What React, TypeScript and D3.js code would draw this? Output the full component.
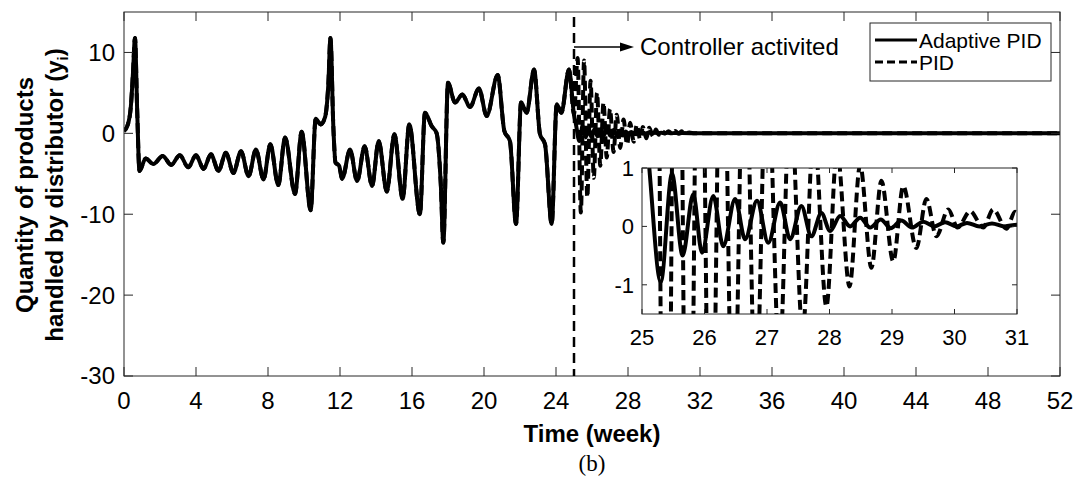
import React from 'react';
import * as d3 from 'd3';

// ---- data ----
const xTicks = [0, 4, 8, 12, 16, 20, 24, 28, 32, 36, 40, 44, 48, 52];
const yTicks = [-30, -20, -10, 0, 10];
const insetXTicks = [25, 26, 27, 28, 29, 30, 31];
const insetYTicks = [-1, 0, 1];

// common trajectory before the controller is activated (week, value)
const sharedBefore: [number, number][] = [
  [0, 0.3], [0.2, 1.0], [0.38, 3.3], [0.5, 7.5], [0.61, 11.8], [0.73, 3.0], [0.86, -4.65],
  [1.2, -3.1], [1.63, -3.8], [2.15, -2.8], [2.62, -3.9], [3.1, -2.7], [3.57, -4.2],
  [4.0, -2.7], [4.42, -4.4], [4.83, -2.6], [5.25, -4.65], [5.66, -2.4], [6.08, -4.9],
  [6.5, -2.2], [6.92, -5.3], [7.33, -2.0], [7.75, -5.7], [8.13, -1.35], [8.57, -6.4],
  [8.95, -0.5], [9.5, -7.5], [9.87, 0.2], [10.37, -9.5], [10.65, 1.8], [10.92, 1.1],
  [11.17, 2.0], [11.35, 6.0], [11.47, 11.8], [11.63, 0.8], [11.75, -3.6], [11.95, -4.0],
  [12.12, -5.6], [12.56, -2.0], [12.95, -5.9], [13.37, -1.6], [13.78, -6.5], [14.15, -0.95],
  [14.6, -7.2], [15.02, -0.1], [15.48, -8.1], [15.85, 1.1], [16.44, -10.0], [16.72, 2.55],
  [17.09, 0.9], [17.37, 0.0], [17.6, -6.3], [17.74, -13.5], [18.0, 6.25], [18.39, 3.8],
  [18.8, 4.8], [19.22, 3.25], [19.72, 5.55], [20.15, 2.15], [20.76, 7.2], [21.13, 0.3],
  [21.44, -0.95], [21.78, -11.2], [22.06, 3.8], [22.37, 2.55], [22.78, 7.9], [23.11, -0.1],
  [23.39, -1.35], [23.76, -11.2], [24.04, 3.6], [24.3, 2.55], [24.72, 7.9], [25.0, 2.3],
];

// Adaptive PID after activation
const adaptiveAfter: [number, number][] = [
  [25.1, 1.2], [25.3, -0.95], [25.48, 0.9], [25.65, -0.5], [25.82, 0.55], [25.96, -0.45],
  [26.14, 0.52], [26.3, -0.34], [26.49, 0.47], [26.65, -0.22], [26.84, 0.44], [27.02, -0.28],
  [27.21, 0.41], [27.37, -0.22], [27.55, 0.35], [27.71, -0.17], [27.87, 0.23], [28.01, -0.08],
  [28.17, 0.18], [28.33, 0.0], [28.49, 0.15], [28.65, -0.02], [28.82, 0.12], [28.98, -0.03],
  [29.15, 0.1], [29.32, -0.02], [29.5, 0.08], [29.68, 0.0], [29.85, 0.07], [30.03, 0.0],
  [30.2, 0.06], [30.4, 0.0], [30.6, 0.05], [30.8, 0.0], [31.0, 0.03], [32.0, 0.0], [52.0, 0.0],
];

// PID after activation
const pidAfter: [number, number][] = [
  [25.2, 9.3], [25.38, -9.8], [25.56, 9.0], [25.74, -7.9], [25.92, 6.5], [26.1, -5.5],
  [26.28, 5.0], [26.46, -4.0], [26.64, 3.8], [26.82, -3.0], [27.0, 3.0], [27.2, -2.3],
  [27.37, 2.3], [27.57, -1.8], [27.75, 1.7], [27.95, -1.37], [28.12, 1.3], [28.32, -1.03],
  [28.49, 1.05], [28.67, -0.71], [28.83, 0.78], [29.02, -0.6], [29.18, 0.69], [29.39, -0.37],
  [29.55, 0.47], [29.71, -0.17], [29.9, 0.29], [30.05, -0.02], [30.25, 0.26], [30.46, -0.02],
  [30.62, 0.29], [30.83, -0.04], [30.97, 0.25], [31.15, 0.0], [31.4, 0.1], [31.7, 0.0],
  [33.0, 0.0], [52.0, 0.0],
];

const adaptive = [...sharedBefore, ...adaptiveAfter];
const pid = [...sharedBefore, ...pidAfter];

const FONT = '"Liberation Sans", Arial, Helvetica, sans-serif';
const AX = '#262626';

export default function App() {
  const x = d3.scaleLinear().domain([0, 52]).range([124, 1060]);
  const y = d3.scaleLinear().domain([-30, 15]).range([376, 12]);
  const ix = d3.scaleLinear().domain([25, 31]).range([642, 1017]);
  const iy = d3.scaleLinear().domain([-1.5, 1]).range([314, 168]);

  const mainLine = d3.line<[number, number]>().x(d => x(d[0])).y(d => y(d[1])).curve(d3.curveMonotoneX);
  const insetLine = d3.line<[number, number]>().x(d => ix(d[0])).y(d => iy(d[1])).curve(d3.curveMonotoneX);
  const inInset = (d: [number, number]) => d[0] >= 24.7 && d[0] <= 32;

  const [x0, x1] = x.range();
  const [yb, yt] = y.range();
  const [ix0, ix1] = ix.range();
  const [iyb, iyt] = iy.range();
  const tk = 9;
  const itk = 5;

  return (
    <svg width={1078} height={477} style={{ position: 'absolute', left: 0, top: 0, background: '#fff' }}
      fontFamily={FONT}>
      <defs>
        <clipPath id="mainClip"><rect x={x0} y={yt} width={x1 - x0} height={yb - yt} /></clipPath>
        <clipPath id="insetClip"><rect x={ix0} y={iyt} width={ix1 - ix0} height={iyb - iyt} /></clipPath>
      </defs>
      <rect x={0} y={0} width={1078} height={477} fill="#fff" />

      {/* main curves */}
      <g clipPath="url(#mainClip)">
        <path d={mainLine(pid) || ''} fill="none" stroke="#000" strokeWidth={4} strokeDasharray="10,5" strokeLinejoin="round" />
        <path d={mainLine(adaptive) || ''} fill="none" stroke="#000" strokeWidth={4} strokeLinejoin="round" />
      </g>

      {/* main frame & ticks */}
      <rect x={x0} y={yt} width={x1 - x0} height={yb - yt} fill="none" stroke={AX} strokeWidth={1} />
      {xTicks.map(t => (
        <g key={'xt' + t}>
          <line x1={x(t)} x2={x(t)} y1={yb} y2={yb - tk} stroke={AX} />
          <line x1={x(t)} x2={x(t)} y1={yt} y2={yt + tk} stroke={AX} />
          <text x={x(t)} y={409} fontSize={24} textAnchor="middle" fill="#000">{t}</text>
        </g>
      ))}
      {yTicks.map(v => (
        <g key={'yt' + v}>
          <line x1={x0} x2={x0 + tk} y1={y(v)} y2={y(v)} stroke={AX} />
          <line x1={x1} x2={x1 - tk} y1={y(v)} y2={y(v)} stroke={AX} />
          <text x={x0 - 9} y={y(v)} dy="0.35em" fontSize={24} textAnchor="end" fill="#000">{v}</text>
        </g>
      ))}

      {/* controller activation line & annotation */}
      <line x1={x(25)} x2={x(25)} y1={yt + 5} y2={yb} stroke="#000" strokeWidth={2.5} strokeDasharray="10,6" />
      <line x1={x(25)} x2={622} y1={47} y2={47} stroke="#000" strokeWidth={1.5} />
      <path d="M620,42.5 L634,47 L620,51.5 Z" fill="#000" />
      <text x={640} y={55} fontSize={24} fill="#000">Controller activited</text>

      {/* legend */}
      <rect x={870} y={23} width={181} height={58} fill="#fff" stroke={AX} strokeWidth={1} />
      <line x1={875} x2={917} y1={40} y2={40} stroke="#000" strokeWidth={3} />
      <text x={919} y={48} fontSize={21} fill="#000">Adaptive PID</text>
      <line x1={875} x2={917} y1={62} y2={62} stroke="#000" strokeWidth={3} strokeDasharray="8,4" />
      <text x={919} y={70} fontSize={21} fill="#000">PID</text>

      {/* inset */}
      <rect x={ix0} y={iyt} width={ix1 - ix0} height={iyb - iyt} fill="#fff" />
      <g clipPath="url(#insetClip)">
        <path d={insetLine(pid.filter(inInset)) || ''} fill="none" stroke="#000" strokeWidth={4} strokeDasharray="10,5" strokeLinejoin="round" />
        <path d={insetLine(adaptive.filter(inInset)) || ''} fill="none" stroke="#000" strokeWidth={4} strokeLinejoin="round" />
      </g>
      <rect x={ix0} y={iyt} width={ix1 - ix0} height={iyb - iyt} fill="none" stroke={AX} strokeWidth={1} />
      {insetXTicks.map(t => (
        <g key={'ixt' + t}>
          <line x1={ix(t)} x2={ix(t)} y1={iyb} y2={iyb - itk} stroke={AX} />
          <line x1={ix(t)} x2={ix(t)} y1={iyt} y2={iyt + itk} stroke={AX} />
          <text x={ix(t)} y={345} fontSize={22} textAnchor="middle" fill="#000">{t}</text>
        </g>
      ))}
      {insetYTicks.map(v => (
        <g key={'iyt' + v}>
          <line x1={ix0} x2={ix0 + itk} y1={iy(v)} y2={iy(v)} stroke={AX} />
          <line x1={ix1} x2={ix1 - itk} y1={iy(v)} y2={iy(v)} stroke={AX} />
          <text x={ix0 - 8} y={iy(v)} dy="0.35em" fontSize={22} textAnchor="end" fill="#000">{v}</text>
        </g>
      ))}

      {/* axis titles */}
      <text transform="translate(33,195) rotate(-90)" fontSize={24} fontWeight="bold" textAnchor="middle" fill="#000">
        Quantity of products
      </text>
      <text transform="translate(63,195) rotate(-90)" fontSize={24} fontWeight="bold" textAnchor="middle" fill="#000">
        handled by distributor (y<tspan fontSize={15} dy={5}>i</tspan><tspan dy={-5}>)</tspan>
      </text>
      <text x={592} y={442} fontSize={24} fontWeight="bold" textAnchor="middle" fill="#000">Time (week)</text>
      <text x={592} y={471} fontSize={23} textAnchor="middle" fontFamily='"Liberation Serif", "Times New Roman", serif' fill="#000">(b)</text>
    </svg>
  );
}
